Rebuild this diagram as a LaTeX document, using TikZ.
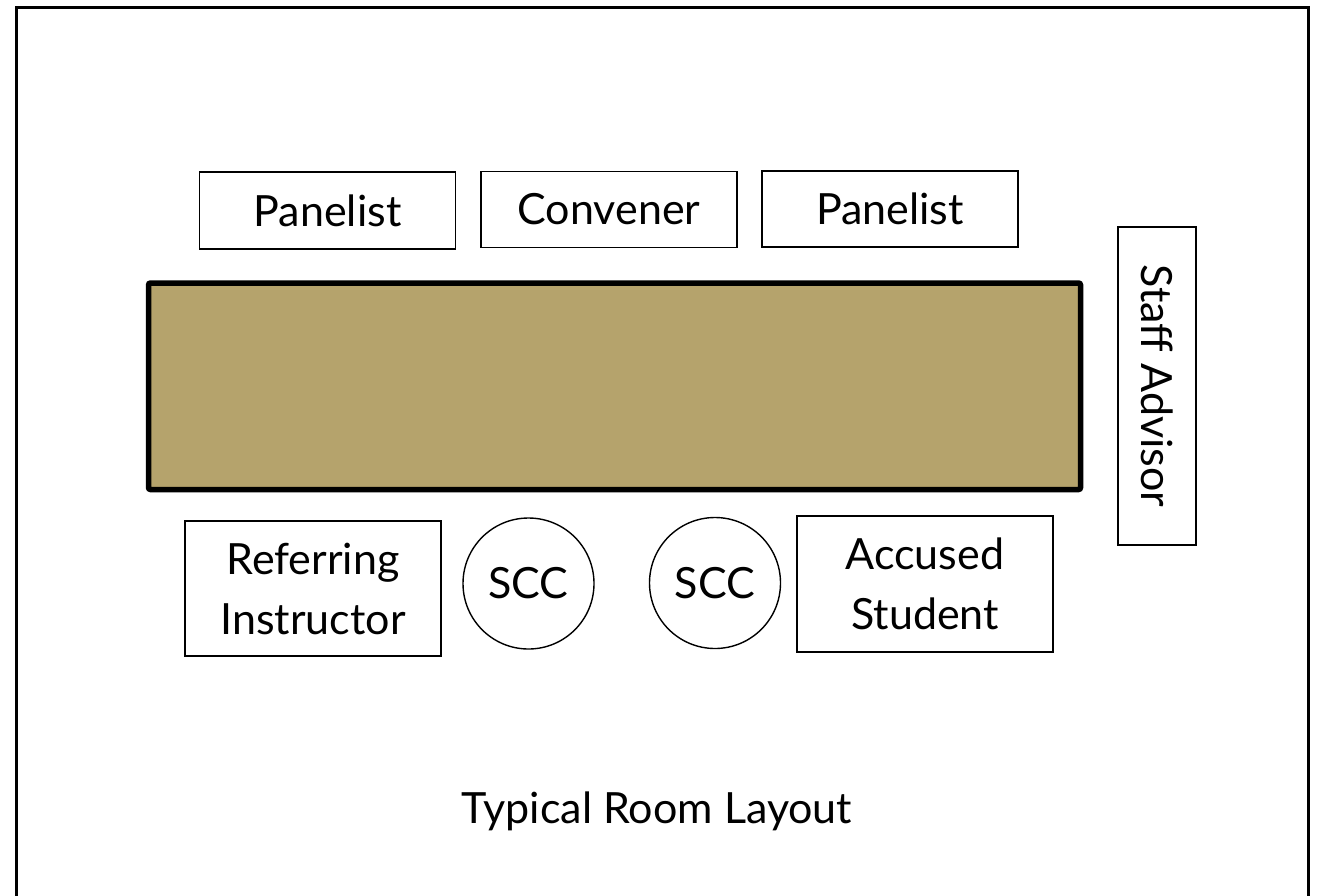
\documentclass[tikz,border=0pt]{standalone}
\usepackage{fontspec}
\setmainfont{Lato}
\definecolor{tabletan}{RGB}{181,163,108}
\begin{document}
\begin{tikzpicture}[x=1pt,y=-1pt,
  label font/.style={font=\fontsize{43}{60}\selectfont},
  seat/.style={draw=black, line width=1.7pt, rectangle, inner sep=0pt,
    align=center, minimum width=256pt, label font},
  chair/.style={draw=black, line width=1.4pt, circle, inner sep=0pt,
    minimum size=131pt, label font},
  tablebox/.style={draw=black, fill=tabletan, line width=5.5pt, rounded corners=2pt},
  frame/.style={draw=black, line width=3pt}]
  \useasboundingbox (0,0) rectangle (1319,895);
  \clip (0,0) rectangle (1319,895);
  % room outline, open past the lower edge
  \draw[frame] (16.5,920) -- (16.5,7.5) -- (1308,7.5) -- (1308,920);
  % conference table
  \draw[tablebox] (148.5,283) rectangle (1080.5,489.5);
  % panel side
  \node[seat, minimum height=77pt] (pan1) at (327.5,210.5) {Panelist};
  \node[seat, minimum height=76pt] (conv) at (609,209.5) {Convener};
  \node[seat, minimum height=76pt] (pan2) at (890,209) {Panelist};
  % staff advisor at the end of the table
  \node[seat, rotate=-90, minimum width=318pt, minimum height=78pt] (staff) at (1157,386) {Staff Advisor};
  % hearing side
  \node[seat, minimum height=135pt] (ref) at (313,588.5) {Referring\\Instructor};
  \node[chair] (scc1) at (528.5,583.5) {SCC};
  \node[chair] (scc2) at (715,583) {SCC};
  \node[seat, minimum height=136pt] (acc) at (925,584) {Accused\\Student};
  % caption
  \node[label font, anchor=base, inner sep=0pt] (title) at (657,823) {Typical Room Layout};
\end{tikzpicture}
\end{document}
